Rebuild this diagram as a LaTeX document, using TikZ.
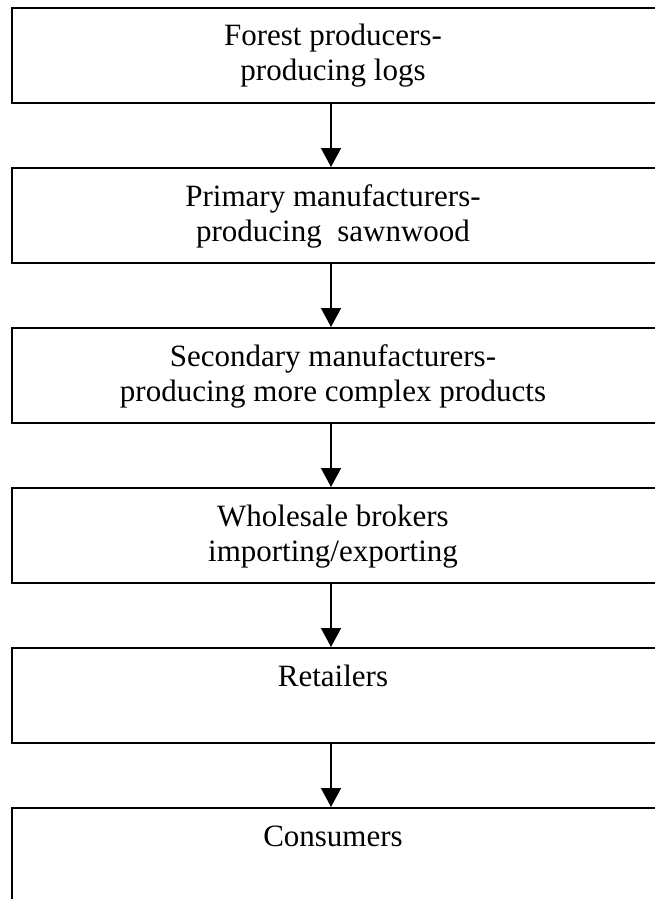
\documentclass[tikz,border=0pt]{standalone}
\usepackage{fontspec}
\setmainfont{Liberation Serif}
\usetikzlibrary{arrows.meta}
\begin{document}
\begin{tikzpicture}[x=1pt,y=1pt,
  boxstyle/.style={draw=black,line width=2.2pt,rectangle,minimum width=689pt,minimum height=95pt,inner sep=0pt,anchor=north west},
  labelstyle/.style={anchor=base,align=center,inner sep=0pt,font=\fontsize{31}{35}\selectfont},
  arr/.style={line width=1.5pt,-{Triangle[width=20pt,length=19pt]}}]
\useasboundingbox (0,0) rectangle (655,-899);
\clip (0,0) rectangle (655,-899);
\coordinate (ax) at (331,0);
\node[boxstyle] (b1) at (11,-7) {};
\node[boxstyle] (b2) at (11,-167) {};
\node[boxstyle] (b3) at (11,-327) {};
\node[boxstyle] (b4) at (11,-487) {};
\node[boxstyle] (b5) at (11,-647) {};
\node[boxstyle,minimum height=150pt] (b6) at (11,-807) {};
\node[labelstyle] (t1) at (333,-81) {Forest producers-\\producing logs};
\node[labelstyle] (t2) at (333,-241) {Primary manufacturers-\\producing\ \ sawnwood};
\node[labelstyle] (t3) at (333,-401) {Secondary manufacturers-\\producing more complex products};
\node[labelstyle] (t4) at (333,-561) {Wholesale brokers\\importing/exporting};
\node[labelstyle] (t5) at (333,-686) {Retailers};
\node[labelstyle] (t6) at (333,-846) {Consumers};
\draw[arr] (b1.south -| ax) -- (b2.north -| ax);
\draw[arr] (b2.south -| ax) -- (b3.north -| ax);
\draw[arr] (b3.south -| ax) -- (b4.north -| ax);
\draw[arr] (b4.south -| ax) -- (b5.north -| ax);
\draw[arr] (b5.south -| ax) -- (b6.north -| ax);
\end{tikzpicture}
\end{document}
